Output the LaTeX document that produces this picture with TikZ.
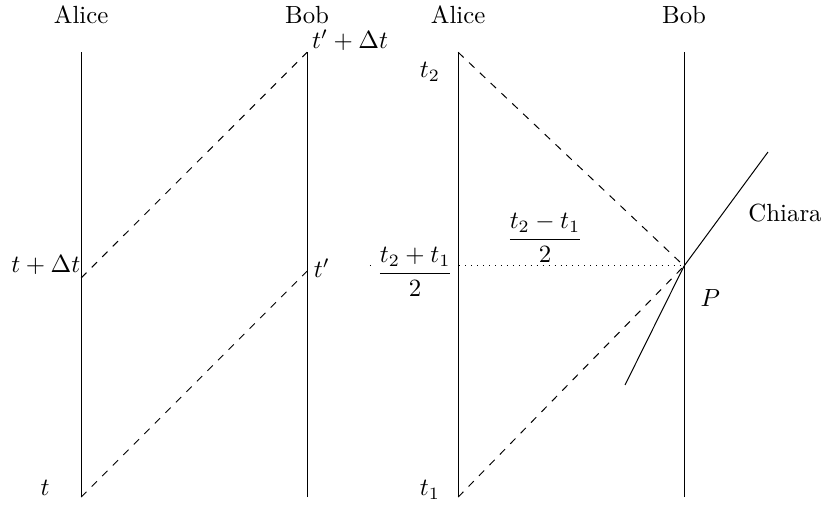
\documentclass[tikz,border=0pt]{standalone}
\usepackage{amsmath}
\usepackage{tikz}
\usetikzlibrary{positioning,calc}

\begin{document}
\begin{tikzpicture}[
  wl/.style={draw=black},
  sig/.style={dashed},
  lab/.style={inner sep=2pt}]
\useasboundingbox (0,0) rectangle (11.714,7.181);
% left: sending a signal back and forth
\coordinate (A1b) at (1.15,0.14);
\coordinate (A1t) at (1.15,6.44);
\coordinate (B1b) at (4.35,0.14);
\coordinate (B1t) at (4.35,6.44);
\coordinate (send1) at (1.15,3.244);
\coordinate (recv1) at (4.35,3.34);
\node (alice1) at (1.15,6.97) {Alice};
\node (bob1) at (4.35,6.97) {Bob};
\draw[wl] (A1b) -- (A1t);
\draw[wl] (B1b) -- (B1t);
\draw[sig] (A1b) -- (recv1);
\draw[sig] (send1) -- (B1t);
\node[lab] (lt) at (0.64,0.27) {$t$};
\node[lab] (ltd) at (0.65,3.43) {$t+\Delta t$};
\node[lab] (ltp) at (4.56,3.385) {$t'$};
\node[lab] (ltpd) at (4.96,6.615) {$t'+\Delta t$};
% right: radar time of the event P
\coordinate (A2b) at (6.49,0.14);
\coordinate (A2t) at (6.49,6.44);
\coordinate (B2b) at (9.69,0.14);
\coordinate (B2t) at (9.69,6.44);
\coordinate (P) at (9.69,3.414);
\coordinate (ch1) at (8.853,1.728);
\coordinate (ch2) at (10.878,5.028);
\coordinate (mid) at (5.24,3.414);
\node (alice2) at (6.49,6.97) {Alice};
\node (bob2) at (9.69,6.97) {Bob};
\draw[dotted] (mid) -- (P);
\node[lab,fill=white,inner sep=1pt] (half1) at (5.88,3.33) {$\dfrac{t_2+t_1}{2}$};
\draw[wl] (A2b) -- (A2t);
\draw[wl] (B2b) -- (B2t);
\draw[sig] (A2b) -- (P);
\draw[sig] (A2t) -- (P);
\draw (ch1) -- (P) -- (ch2);
\node[lab] (lt2) at (6.09,6.16) {$t_2$};
\node[lab] (lt1) at (6.09,0.24) {$t_1$};
\node[lab] (half2) at (7.72,3.81) {$\dfrac{t_2-t_1}{2}$};
\node[lab] (lP) at (10.06,2.96) {$P$};
\node[lab] (chiara) at (11.12,4.16) {Chiara};
\end{tikzpicture}
\end{document}
